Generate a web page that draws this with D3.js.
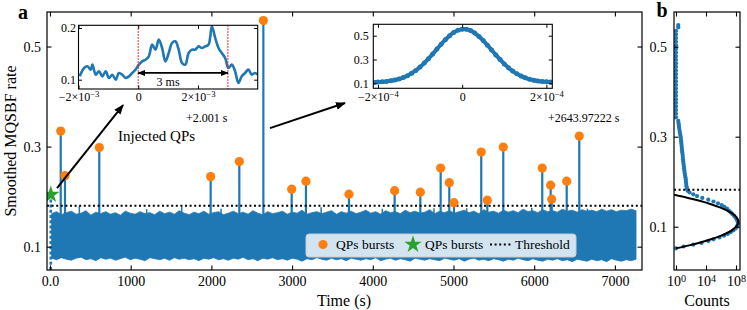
<!DOCTYPE html>
<html><head><meta charset="utf-8">
<script src="https://cdn.jsdelivr.net/npm/d3@7"></script>
<style>body{margin:0;background:#fff}</style>
</head><body><svg id="c" width="747" height="310"></svg>
<script>
// ---------------- DATA ----------------
const xTicks = [0,1000,2000,3000,4000,5000,6000,7000];
const xTickLabels = ["0.0","1000","2000","3000","4000","5000","6000","7000"];
const yTicks = [0.1,0.3,0.5];
const yTickLabels = ["0.1","0.3","0.5"];
const threshold = 0.182;

// envelope of the smoothed rate time series (evenly sampled over its span)
const bandSpan = [20, 7262];
const bandTop = [0.166,0.170,0.164,0.168,0.171,0.165,0.167,0.172,0.163,0.169,
0.166,0.170,0.165,0.168,0.163,0.171,0.167,0.165,0.170,0.166,
0.168,0.164,0.171,0.166,0.169,0.165,0.172,0.167,0.164,0.169,
0.166,0.171,0.165,0.168,0.170,0.164,0.167,0.171,0.166,0.169,
0.165,0.172,0.167,0.164,0.170,0.166,0.168,0.171,0.165,0.169,
0.167,0.173,0.165,0.168,0.170,0.166,0.169,0.172,0.165,0.170,
0.167,0.171,0.166,0.169,0.173,0.167,0.170,0.165,0.172,0.168,
0.170,0.166,0.173,0.168,0.171,0.167,0.169,0.174,0.166,0.171,
0.168,0.172,0.167,0.170,0.173,0.168,0.171,0.166,0.174,0.169,
0.171,0.167,0.173,0.169,0.172,0.168,0.175,0.170,0.172,0.168,
0.174,0.170,0.172,0.169,0.175,0.171,0.173,0.169,0.174,0.171,
0.173,0.170,0.175,0.171,0.174,0.170,0.173,0.172,0.175,0.172];
const bandBottom = [0.077,0.074,0.078,0.075,0.073,0.077,0.079,0.074,0.076,0.072,
0.078,0.075,0.077,0.073,0.076,0.079,0.074,0.077,0.075,0.072,
0.078,0.076,0.074,0.077,0.073,0.078,0.075,0.077,0.074,0.076,
0.072,0.077,0.075,0.078,0.074,0.076,0.073,0.077,0.075,0.079,
0.074,0.076,0.072,0.077,0.075,0.078,0.074,0.076,0.073,0.077,
0.075,0.071,0.076,0.074,0.078,0.075,0.073,0.077,0.074,0.076,
0.072,0.077,0.075,0.073,0.076,0.074,0.078,0.072,0.075,0.077,
0.073,0.076,0.074,0.071,0.077,0.075,0.073,0.076,0.074,0.072,
0.077,0.075,0.073,0.076,0.071,0.075,0.077,0.073,0.075,0.072,
0.076,0.074,0.071,0.075,0.073,0.077,0.074,0.072,0.076,0.073,
0.071,0.075,0.073,0.076,0.072,0.074,0.070,0.075,0.073,0.071,
0.075,0.072,0.074,0.070,0.076,0.073,0.071,0.074,0.072,0.075];
// small excursions just below threshold
const spikeT = [364,1198,1632,2120,3360,4118,4759,5163,5970,6660];
const spikeV = [0.181,0.175,0.180,0.176,0.179,0.176,0.177,0.177,0.178,0.176];

// detected QP bursts
const burstT = [133,186,611,1991,2346,2644,2995,3172,3705,4271,4589,4841,4948,5006,5344,5419,5617,6100,6204,6217,6403,6559];
const burstV = [0.331,0.242,0.298,0.240,0.270,0.552,0.215,0.231,0.205,0.212,0.209,0.257,0.228,0.188,0.289,0.193,0.299,0.257,0.223,0.195,0.231,0.321];
// injected QP
const injT = 10, injV = 0.204;

// inset 1 (time in ms relative to +2.001 s)
const in1T = [-1.96,-1.812,-1.701,-1.590,-1.534,-1.423,-1.312,-1.201,-1.090,-0.979,-0.868,-0.757,-0.646,-0.534,-0.423,-0.312,-0.201,-0.090,0.021,0.132,0.243,0.354,0.466,0.577,0.688,0.799,0.910,1.021,1.132,1.243,1.354,1.466,1.577,1.688,1.799,1.910,2.021,2.132,2.243,2.354,2.466,2.577,2.688,2.799,2.910,3.021,3.132,3.243,3.354,3.466,3.577,3.688,3.799,3.910,4.0];
const in1V = [0.1065,0.1226,0.1259,0.1194,0.1291,0.1097,0.1162,0.1065,0.1162,0.1033,0.1097,0.1001,0.1130,0.1097,0.1033,0.1065,0.1130,0.1194,0.1291,0.1355,0.1387,0.1452,0.1678,0.1581,0.1774,0.1613,0.1355,0.1516,0.1710,0.1742,0.1581,0.1323,0.1291,0.1516,0.1581,0.1581,0.1645,0.1613,0.1645,0.1678,0.2032,0.1807,0.1613,0.1516,0.1420,0.1226,0.1291,0.1162,0.0936,0.1065,0.1130,0.1194,0.1097,0.1130,0.1097];
const in1XTicks = [-2,0,2];
const in1XLabels = [["\u22122\u00d710","\u22123"],["0",""],["2\u00d710","\u22123"]];
const in1YTicks = [0.1,0.2];
const in1YLabels = ["0.1","0.2"];
const markLines = [0,3];

// inset 2 (time in 1e-4 s relative to +2643.97222 s)
const in2T = [-2.1,-2.0,-1.9,-1.8,-1.7,-1.6,-1.5,-1.4,-1.3,-1.2,-1.1,-1.0,-0.9,-0.8,-0.7,-0.6,-0.5,-0.4,-0.3,-0.2,-0.1,0,0.1,0.2,0.3,0.4,0.5,0.6,0.7,0.8,0.9,1.0,1.1,1.2,1.3,1.4,1.5,1.6,1.7,1.8,1.9,2.0,2.1];
const in2V = [0.1093,0.1108,0.1130,0.1162,0.1209,0.1275,0.1365,0.1486,0.1642,0.1839,0.2080,0.2368,0.2699,0.3068,0.3465,0.3876,0.4283,0.4665,0.5002,0.5273,0.5460,0.5552,0.5542,0.5430,0.5225,0.4940,0.4592,0.4203,0.3793,0.3384,0.2991,0.2629,0.2307,0.2028,0.1796,0.1607,0.1459,0.1345,0.1260,0.1198,0.1155,0.1125,0.1104];
const in2XTicks = [-2,0,2];
const in2XLabels = [["\u22122\u00d710","\u22124"],["0",""],["2\u00d710","\u22124"]];
const in2YTicks = [0.1,0.3,0.5];
const in2YLabels = ["0.1","0.3","0.5"];

// panel b: histogram of rates
const histV = [0.052,0.056,0.060,0.064,0.068,0.072,0.076,0.080,0.084,0.088,0.092,0.096,0.100,0.104,0.108,0.112,0.116,0.120,0.124,0.128,0.132,0.136,0.140,0.144,0.148,0.152,0.156,0.160,0.164,0.168,0.172,0.176,
0.180,0.185,0.190,0.195,0.200,0.205,0.210,0.215,0.220,0.225,0.230,0.235,0.240,0.245,0.250,0.255,0.260,0.265,0.270,0.275,0.280,0.285,0.290,0.295,0.300,0.305,0.310,0.315,0.320,0.325,0.330,0.335,
0.343,0.351,0.359,0.367,0.375,0.383,0.391,0.399,0.407,0.415,0.423,0.431,0.439,0.447,0.455,0.463,0.471,0.479,0.487,0.495,0.503,0.511,0.519,0.527,0.535,0.543,0.548];
const histC = [1,10,200,2500,2e4,1e5,6.3e5,2.5e6,8e6,2e7,4.5e7,9e7,1.4e8,1.66e8,1.8e8,1.66e8,1.3e8,9e7,5.6e7,3.2e7,2e7,1.1e7,6.3e6,2.8e6,1.26e6,4e5,1e5,2e4,3200,630,200,63,
35,28,25,23,21,20,18,16,14,13,12,11,10,9.3,8.5,8,7.6,6.9,6.3,6,5.6,5.2,4.9,4.5,4.2,3.6,3.2,2.9,2.6,2.4,2.2,2.0,
1,1,1,1,1,1,1,1,1,1,1,1,1,1,1,1,1,1,1,1,1,1,1,1,1,2,2];
const fitV = [0.052,0.058,0.065,0.072,0.079,0.086,0.093,0.100,0.107,0.111,0.115,0.122,0.129,0.136,0.143,0.150,0.157,0.164,0.171];
const fitC = [1,40,1.8e3,4.7e4,7.2e5,6.5e6,3.4e7,1.0e8,1.8e8,2.0e8,1.8e8,1.0e8,3.4e7,6.5e6,7.2e5,4.7e4,1.8e3,40,0.5];
const bXTicks = [1,1e4,1e8];
const bXLabels = [["10","0"],["10","4"],["10","8"]];

// ---------------- DRAWING ----------------
const FONT = '"Liberation Serif","DejaVu Serif",serif';
const BLUE = "#1f77b4", ORANGE = "#ff7f0e", GREEN = "#2ca02c";
const svg = d3.select("#c").attr("font-family", FONT);

const defs = svg.append("defs");
function marker(id, w, h, orient){
  defs.append("marker").attr("id", id).attr("markerUnits","userSpaceOnUse")
    .attr("viewBox",`0 0 ${w} ${h}`).attr("markerWidth",w).attr("markerHeight",h)
    .attr("refX", w-1).attr("refY", h/2).attr("orient", orient)
    .append("path").attr("d",`M0,0L${w},${h/2}L0,${h}Z`).attr("fill","#000");
}
marker("ahBig", 10, 8, "auto");
marker("ahS", 8, 6, "auto");
marker("ahSs", 8, 6, "auto-start-reverse");

function supLabels(g, labels, fs){
  g.selectAll(".tick text").each(function(d,i){
    const t = d3.select(this); t.text(null);
    t.append("tspan").text(labels[i][0]);
    if (labels[i][1]) t.append("tspan").attr("dy","-0.45em").attr("font-size",(fs*0.72)+"px").text(labels[i][1]);
  });
}
function drawAxes(g, xs, ys, xt, xfmt, yt, yfmt, o){
  const [x0,x1] = xs.range(), [y0,y1] = ys.range();
  const b = g.append("g").attr("transform",`translate(0,${y0})`)
    .call(d3.axisBottom(xs).tickValues(xt).tickSize(-o.tl).tickPadding(o.xpad).tickFormat(xfmt));
  const t = g.append("g").attr("transform",`translate(0,${y1})`)
    .call(d3.axisTop(xs).tickValues(xt).tickSize(-o.tl).tickFormat(""));
  const l = g.append("g").attr("transform",`translate(${x0},0)`)
    .call(d3.axisLeft(ys).tickValues(yt).tickSize(-o.tl).tickPadding(o.ypad).tickFormat(yfmt));
  const r = g.append("g").attr("transform",`translate(${x1},0)`)
    .call(d3.axisRight(ys).tickValues(yt).tickSize(-o.tl).tickFormat(""));
  [b,t,l,r].forEach(a => {
    a.attr("font-family", FONT).attr("font-size", o.fs);
    a.select(".domain").remove();
    a.selectAll("line").attr("stroke","#000").attr("stroke-width",o.tw);
    a.selectAll("text").attr("fill","#000").attr("font-size",o.fs+"px").attr("font-family",FONT);
  });
  g.append("rect").attr("x",x0).attr("y",y1).attr("width",x1-x0).attr("height",y0-y1)
    .attr("fill","none").attr("stroke","#000").attr("stroke-width",o.fw);
  return {b,l};
}

// ---- panel a ----
const x = d3.scaleLinear().domain([-37, 7336]).range([47, 642]);
const y = d3.scaleLinear().domain([0.0534, 0.569]).range([270, 12]);
defs.append("clipPath").attr("id","clipA").append("rect").attr("x",47).attr("y",12).attr("width",595).attr("height",258);
const gA = svg.append("g");
const plotA = gA.append("g").attr("clip-path","url(#clipA)");

const nB = Math.min(bandTop.length, bandBottom.length);
const bandIdx = d3.range(nB);
const bandX = i => x(bandSpan[0] + i*(bandSpan[1]-bandSpan[0])/(nB-1));
plotA.append("path").datum(bandIdx)
  .attr("d", d3.area().x(bandX).y0(i => y(bandBottom[i])).y1(i => y(bandTop[i])))
  .attr("fill", BLUE).attr("stroke", BLUE).attr("stroke-width", 0.8);

plotA.selectAll(".spk").data(spikeT).join("line")
  .attr("x1", d => x(d)).attr("x2", d => x(d))
  .attr("y1", y(0.15)).attr("y2", (d,i) => y(spikeV[i]))
  .attr("stroke", BLUE).attr("stroke-width", 1.5);

plotA.selectAll(".stem").data(burstT).join("line")
  .attr("x1", d => x(d)).attr("x2", d => x(d))
  .attr("y1", y(0.16)).attr("y2", (d,i) => y(burstV[i]))
  .attr("stroke", BLUE).attr("stroke-width", 2.2);

// injected QP dashed stem
plotA.append("line").attr("x1", x(injT)).attr("x2", x(injT))
  .attr("y1", y(0.0534)).attr("y2", y(injV))
  .attr("stroke", BLUE).attr("stroke-width", 2.6).attr("stroke-dasharray","3,2.2");

// threshold
plotA.append("line").attr("x1", 47).attr("x2", 642).attr("y1", y(threshold)).attr("y2", y(threshold))
  .attr("stroke","#000").attr("stroke-width",2).attr("stroke-dasharray","2,2.6");

plotA.selectAll(".bm").data(burstT).join("circle")
  .attr("cx", d => x(d)).attr("cy", (d,i) => y(burstV[i])).attr("r", 4.6).attr("fill", ORANGE);

const star = d3.symbol(d3.symbolStar).size(95)();
plotA.append("path").attr("d", star).attr("transform",`translate(${x(injT)},${y(injV)})`).attr("fill", GREEN);

drawAxes(gA, x, y, xTicks, (d,i) => xTickLabels[i], yTicks, (d,i) => yTickLabels[i],
  {tl:4.5, xpad:6.5, ypad:6, fs:14, tw:1.1, fw:1.2});

// legend
const lg = gA.append("g");
lg.append("rect").attr("x",306).attr("y",234).attr("width",270).attr("height",23).attr("rx",3)
  .attr("fill","#fff").attr("fill-opacity",0.8).attr("stroke","#cccccc").attr("stroke-width",1);
lg.append("circle").attr("cx",323).attr("cy",244.5).attr("r",4.6).attr("fill",ORANGE);
lg.append("text").attr("x",336).attr("y",248.7).attr("font-size","13.5px").text("QPs bursts");
lg.append("path").attr("d",star).attr("transform","translate(413,244.5)").attr("fill",GREEN);
lg.append("text").attr("x",425).attr("y",248.7).attr("font-size","13.5px").text("QPs bursts");
lg.append("line").attr("x1",490).attr("x2",511).attr("y1",244.5).attr("y2",244.5)
  .attr("stroke","#000").attr("stroke-width",2).attr("stroke-dasharray","2,2.6");
lg.append("text").attr("x",515).attr("y",248.7).attr("font-size","13.5px").text("Threshold");

// arrows + annotation
gA.append("line").attr("x1",x(87)).attr("y1",y(0.217)).attr("x2",x(905)).attr("y2",y(0.383))
  .attr("stroke","#000").attr("stroke-width",2).attr("marker-end","url(#ahBig)");
gA.append("line").attr("x1",x(2726)).attr("y1",y(0.337)).attr("x2",x(3655)).attr("y2",y(0.387))
  .attr("stroke","#000").attr("stroke-width",2).attr("marker-end","url(#ahBig)");
gA.append("text").attr("x",x(843)).attr("y",y(0.311)).attr("font-size","15px").text("Injected QPs");

// ---- inset 1 ----
const g1 = svg.append("g");
const i1x = d3.scaleLinear().domain([-2, 4.0]).range([78.5, 257.7]);
const i1y = d3.scaleLinear().domain([0.082, 0.2052]).range([89, 25.3]);
g1.append("rect").attr("x",78.5).attr("y",25.3).attr("width",179.2).attr("height",63.7).attr("fill","#fff");
defs.append("clipPath").attr("id","clip1").append("rect").attr("x",78.5).attr("y",25.3).attr("width",179.2).attr("height",63.7);
const p1 = g1.append("g").attr("clip-path","url(#clip1)");
p1.append("path").datum(in1T)
  .attr("d", d3.line().x(d => i1x(d)).y((d,i) => i1y(in1V[i])).curve(d3.curveCatmullRom))
  .attr("fill","none").attr("stroke",BLUE).attr("stroke-width",2.6);
p1.selectAll(".ml").data(markLines).join("line")
  .attr("x1", d => i1x(d)).attr("x2", d => i1x(d)).attr("y1",25.3).attr("y2",89)
  .attr("stroke","#f0282a").attr("stroke-width",1.3).attr("stroke-dasharray","1.4,1.6");
p1.append("line").attr("x1", i1x(markLines[0])).attr("x2", i1x(markLines[1]))
  .attr("y1", i1y(0.113)).attr("y2", i1y(0.113))
  .attr("stroke","#000").attr("stroke-width",1.8)
  .attr("marker-start","url(#ahSs)").attr("marker-end","url(#ahS)");
p1.append("text").attr("x", i1x(1.0)).attr("y", i1y(0.0885)).attr("text-anchor","middle")
  .attr("font-size","12px").text("3 ms");
const a1 = drawAxes(g1, i1x, i1y, in1XTicks, () => "", in1YTicks, (d,i) => in1YLabels[i],
  {tl:3.5, xpad:3.5, ypad:2.5, fs:12, tw:1, fw:1.1});
supLabels(a1.b, in1XLabels, 12);
g1.append("text").attr("x",186).attr("y",121.5).attr("font-size","12px").text("+2.001 s");

// ---- inset 2 ----
const g2 = svg.append("g");
const i2x = d3.scaleLinear().domain([-2.11, 2.14]).range([373.3, 552.3]);
const i2y = d3.scaleLinear().domain([0.058, 0.596]).range([88.3, 24.3]);
g2.append("rect").attr("x",373.3).attr("y",24.3).attr("width",179).attr("height",64).attr("fill","#fff");
defs.append("clipPath").attr("id","clip2").append("rect").attr("x",373.3).attr("y",24.3).attr("width",179).attr("height",64);
const p2 = g2.append("g").attr("clip-path","url(#clip2)");
p2.append("path").datum(in2T)
  .attr("d", d3.line().x(d => i2x(d)).y((d,i) => i2y(in2V[i])).curve(d3.curveCatmullRom))
  .attr("fill","none").attr("stroke",BLUE).attr("stroke-width",4);
p2.selectAll(".dp").data(in2T).join("circle")
  .attr("cx", d => i2x(d)).attr("cy", (d,i) => i2y(in2V[i])).attr("r", 2.5).attr("fill", BLUE);
const a2 = drawAxes(g2, i2x, i2y, in2XTicks, () => "", in2YTicks, (d,i) => in2YLabels[i],
  {tl:3.5, xpad:3.8, ypad:4.5, fs:12, tw:1, fw:1.1});
supLabels(a2.b, in2XLabels, 12);
g2.append("text").attr("x",548).attr("y",121.5).attr("font-size","12px").text("+2643.97222 s");

// ---- panel b ----
const gB = svg.append("g");
const xb = d3.scaleLog().domain([Math.pow(10,-0.267), Math.pow(10,8.533)]).range([674, 740]);
const yb = d3.scaleLinear().domain([0.0038, 0.5771]).range([270, 12]);
defs.append("clipPath").attr("id","clipB").append("rect").attr("x",674).attr("y",12).attr("width",66).attr("height",258);
const pB = gB.append("g").attr("clip-path","url(#clipB)");
pB.selectAll(".hd").data(histV).join("circle")
  .attr("cx", (d,i) => xb(histC[i])).attr("cy", d => yb(d)).attr("r", 2.1).attr("fill", BLUE);
pB.append("path").datum(fitV)
  .attr("d", d3.line().x((d,i) => xb(fitC[i])).y(d => yb(d)).curve(d3.curveCatmullRom))
  .attr("fill","none").attr("stroke","#000").attr("stroke-width",2);
pB.append("line").attr("x1",674).attr("x2",740).attr("y1",yb(threshold)).attr("y2",yb(threshold))
  .attr("stroke","#000").attr("stroke-width",2).attr("stroke-dasharray","2,2.6");
const aB = drawAxes(gB, xb, yb, bXTicks, () => "", yTicks, (d,i) => yTickLabels[i],
  {tl:4.5, xpad:6.5, ypad:7, fs:14, tw:1.1, fw:1.2});
supLabels(aB.b, bXLabels, 14);

// ---- labels ----
svg.append("text").attr("transform","translate(15.5,141) rotate(-90)").attr("text-anchor","middle")
  .attr("font-size","16px").text("Smoothed MQSBF rate");
svg.append("text").attr("x",344).attr("y",306).attr("text-anchor","middle").attr("font-size","16px").text("Time (s)");
svg.append("text").attr("x",707).attr("y",306).attr("text-anchor","middle").attr("font-size","16px").text("Counts");
svg.append("text").attr("x",18).attr("y",18.5).attr("font-size","20px").attr("font-weight","bold").text("a");
svg.append("text").attr("x",656.5).attr("y",16.7).attr("font-size","20px").attr("font-weight","bold").text("b");
</script></body></html>
